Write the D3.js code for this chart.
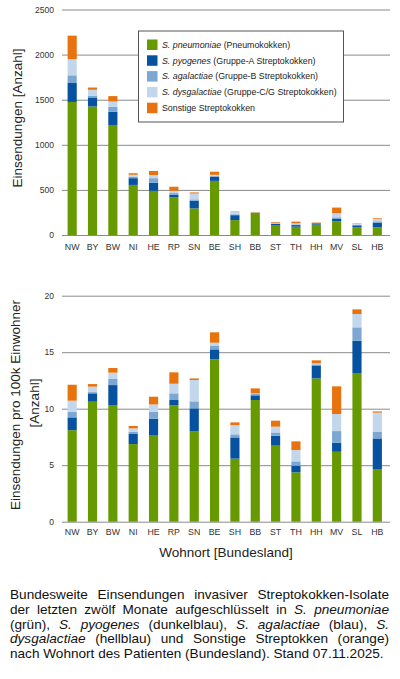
<!DOCTYPE html>
<html>
<head>
<meta charset="utf-8">
<script src="https://cdn.jsdelivr.net/npm/d3@7"></script>
<style>
  body { margin: 0; background: #fff; font-family: "Liberation Sans", Arial, sans-serif; }
  #wrap { position: relative; width: 400px; height: 679px; }
  svg { position: absolute; left: 0; top: 0; }
  .tick line { stroke: #8a8a8a; }
  .tick text { fill: #333; font-size: 8.6px; }
  #caption { position: absolute; left: 10px; top: 588px; width: 379px; font-size: 13.6px; line-height: 14.8px; color: #111; }
  #caption div { text-align: justify; text-align-last: justify; white-space: nowrap; }
  #caption div.last { text-align-last: left; }
</style>
</head>
<body>
<div id="wrap">
  <svg id="chart" width="400" height="580"></svg>
  <div id="caption">
    <div>Bundesweite Einsendungen invasiver Streptokokken-Isolate</div>
    <div>der letzten zwölf Monate aufgeschlüsselt in <i>S. pneumoniae</i></div>
    <div>(grün), <i>S. pyogenes</i> (dunkelblau), <i>S. agalactiae</i> (blau), <i>S.</i></div>
    <div><i>dysgalactiae</i> (hellblau) und Sonstige Streptokken (orange)</div>
    <div class="last">nach Wohnort des Patienten (Bundesland). Stand 07.11.2025.</div>
  </div>
</div>
<script>
var states = ["NW", "BY", "BW", "NI", "HE", "RP", "SN", "BE", "SH", "BB", "ST", "TH", "HH", "MV", "SL", "HB"];

var seriesKeys = ["pneu", "pyo", "agal", "dys", "other"];
var seriesItalic = ["S. pneumoniae", "S. pyogenes", "S. agalactiae", "S. dysgalactiae", ""];
var seriesNote = ["(Pneumokokken)", "(Gruppe-A Streptokokken)", "(Gruppe-B Streptokokken)", "(Gruppe-C/G Streptokokken)", "Sonstige Streptokokken"];
var seriesColors = ["#669a00", "#0652a0", "#7ca7d2", "#c2d7ec", "#e8730e"];

// Einsendungen (Anzahl)
var pneuCount  = [1475, 1425, 1220, 555, 490, 420, 295, 600, 165, 237, 104, 92, 115, 152, 85, 85];
var pyoCount   = [210, 100, 145, 75, 90, 25, 85, 45, 55, 8, 20, 18, 15, 26, 22, 52];
var agalCount  = [85, 20, 55, 18, 50, 20, 15, 10, 10, 3, 5, 8, 2, 18, 6, 15];
var dysCount   = [180, 65, 60, 20, 35, 25, 65, 12, 25, 3, 6, 12, 3, 45, 9, 26];
var otherCount = [260, 25, 60, 17, 45, 45, 12, 35, 5, 5, 8, 18, 4, 63, 5, 8];

// Einsendungen pro 100k Einwohner
var pneuRate  = [8.1, 10.62, 10.32, 6.87, 7.67, 10.29, 8.02, 14.37, 5.58, 10.77, 6.73, 4.37, 12.68, 6.19, 13.16, 4.66];
var pyoRate   = [1.13, 0.74, 1.77, 0.89, 1.45, 0.48, 2.01, 0.88, 1.88, 0.41, 0.88, 0.59, 1.15, 0.8, 2.86, 2.71];
var agalRate  = [0.5, 0.11, 0.54, 0.2, 0.61, 0.59, 0.62, 0.3, 0.27, 0.12, 0.29, 0.38, 0.09, 1.03, 1.18, 0.57];
var dysRate   = [0.98, 0.48, 0.56, 0.3, 0.65, 0.85, 1.89, 0.29, 0.82, 0.06, 0.51, 1.0, 0.09, 1.51, 1.18, 1.71];
var otherRate = [1.41, 0.23, 0.41, 0.21, 0.68, 1.01, 0.14, 0.92, 0.24, 0.44, 0.53, 0.77, 0.27, 2.45, 0.41, 0.11];

var topTicks = [0, 500, 1000, 1500, 2000, 2500];
var bottomTicks = [0, 5, 10, 15, 20];

var svg = d3.select("#chart");
var plotLeft = 62, plotRight = 390;

var x = d3.scaleBand()
  .domain(states)
  .range([plotLeft, 387.5])
  .paddingInner(0.55)
  .paddingOuter(0.275);

var color = d3.scaleOrdinal().domain(seriesKeys).range(seriesColors);

function makeRows(arrs) {
  return states.map(function(s, i) {
    var row = {state: s};
    seriesKeys.forEach(function(k, j) { row[k] = arrs[j][i]; });
    return row;
  });
}

function drawPanel(rows, yDomain, yRange, ticks, labelY) {
  var y = d3.scaleLinear().domain(yDomain).range(yRange);

  var g = svg.append("g");

  g.append("g")
    .attr("class", "y axis")
    .attr("transform", "translate(" + plotLeft + ",0)")
    .call(d3.axisLeft(y).tickValues(ticks).tickFormat(d3.format("d")).tickSize(-(plotRight - plotLeft)).tickPadding(8))
    .call(function(a) { a.select(".domain").remove(); })
    .selectAll("text").attr("dy", "0.32em");

  var stacked = d3.stack().keys(seriesKeys)(rows);

  g.selectAll(".layer")
    .data(stacked)
    .enter().append("g")
    .attr("class", "layer")
    .style("fill", function(d) { return color(d.key); })
    .selectAll("rect")
    .data(function(d) { return d; })
    .enter().append("rect")
    .attr("x", function(d) { return x(d.data.state); })
    .attr("width", x.bandwidth())
    .attr("y", function(d) { return y(d[1]); })
    .attr("height", function(d) { return y(d[0]) - y(d[1]); });

  g.append("g")
    .selectAll("text")
    .data(states)
    .enter().append("text")
    .attr("x", function(d) { return x(d) + x.bandwidth() / 2; })
    .attr("y", labelY)
    .attr("dy", "0.35em")
    .attr("text-anchor", "middle")
    .style("font-size", "8.8px")
    .style("fill", "#333")
    .text(function(d) { return d; });
}

drawPanel(makeRows([pneuCount, pyoCount, agalCount, dysCount, otherCount]), [0, 2500], [235, 9.5], topTicks, 247);
drawPanel(makeRows([pneuRate, pyoRate, agalRate, dysRate, otherRate]), [0, 20], [521.7, 295.7], bottomTicks, 532);

// axis titles
svg.append("text")
  .attr("transform", "translate(17,118) rotate(-90)")
  .attr("text-anchor", "middle")
  .attr("dy", "0.35em")
  .style("font-size", "13.5px")
  .style("fill", "#222")
  .text("Einsendungen [Anzahl]");

svg.append("text")
  .attr("transform", "translate(15,405) rotate(-90)")
  .attr("text-anchor", "middle")
  .attr("dy", "0.35em")
  .style("font-size", "13.5px")
  .style("fill", "#222")
  .text("Einsendungen pro 100k Einwohner");

svg.append("text")
  .attr("transform", "translate(34,403) rotate(-90)")
  .attr("text-anchor", "middle")
  .attr("dy", "0.35em")
  .style("font-size", "13.5px")
  .style("fill", "#222")
  .text("[Anzahl]");

svg.append("text")
  .attr("x", (plotLeft + plotRight) / 2)
  .attr("y", 552)
  .attr("text-anchor", "middle")
  .attr("dy", "0.35em")
  .style("font-size", "13.5px")
  .style("fill", "#222")
  .text("Wohnort [Bundesland]");

// legend
var legend = svg.append("g");

legend.append("rect")
  .attr("x", 138.5)
  .attr("y", 31)
  .attr("width", 205)
  .attr("height", 91)
  .style("fill", "#fff")
  .style("stroke", "#555")
  .style("stroke-width", 1);

var item = legend.selectAll(".item")
  .data(seriesKeys)
  .enter().append("g")
  .attr("class", "item")
  .attr("transform", function(d, i) { return "translate(0," + (44.7 + i * 15.8) + ")"; });

item.append("rect")
  .attr("x", 147)
  .attr("y", -5.2)
  .attr("width", 10.5)
  .attr("height", 10.5)
  .style("fill", color);

var label = item.append("text")
  .attr("x", 162)
  .attr("dy", "0.35em")
  .style("font-size", "8.8px")
  .style("fill", "#222");

label.append("tspan")
  .style("font-style", "italic")
  .text(function(d, i) { return seriesItalic[i] ? seriesItalic[i] + " " : ""; });

label.append("tspan")
  .text(function(d, i) { return seriesNote[i]; });
</script>
</body>
</html>
